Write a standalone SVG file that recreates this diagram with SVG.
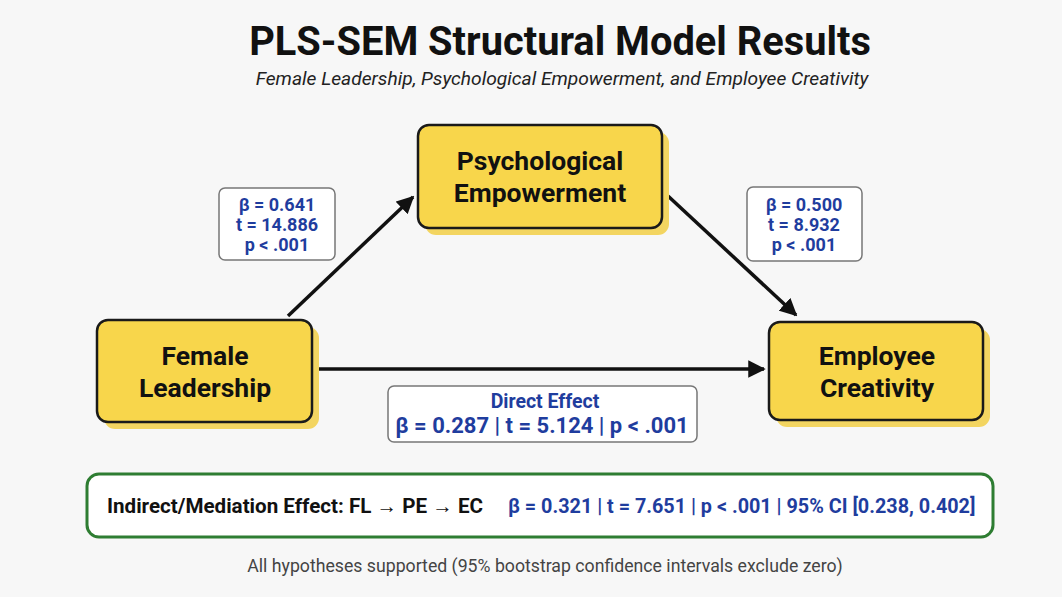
<svg xmlns="http://www.w3.org/2000/svg" width="1062" height="597" viewBox="0 0 1062 597">
<defs>
<style>
.node{fill:#F8D64B;stroke:#1a1a1a;stroke-width:2.5}
.shadow{fill:#F3D561}
.ntext{font-family:Roboto,"Liberation Sans",sans-serif;font-weight:700;font-size:26.5px;fill:#111;text-anchor:middle}
.lbl{fill:#fff;stroke:#777;stroke-width:1.5}
.ltext{font-family:Roboto,"Liberation Sans",sans-serif;font-weight:700;font-size:18px;fill:#1f3d9e;text-anchor:middle}
.dtitle{font-size:19.5px}
.dline{font-size:22px}
.conn{stroke:#111;stroke-width:3.5;fill:none;marker-end:url(#ah)}
</style>
<marker id="ah" viewBox="0 0 10 10" refX="9" refY="5" markerWidth="5" markerHeight="5" orient="auto" markerUnits="strokeWidth">
<path d="M0,0 L10,5 L0,10 z" fill="#111"/>
</marker>
</defs>
<rect width="1062" height="597" fill="#f7f7f7"/>
<text x="560" y="55" font-family="Roboto,'Liberation Sans',sans-serif" font-weight="700" font-size="39.8" fill="#111" text-anchor="middle">PLS-SEM Structural Model Results</text>
<text x="562" y="85" font-family="Roboto,'Liberation Sans',sans-serif" font-style="italic" font-size="19.2" fill="#222" text-anchor="middle">Female Leadership, Psychological Empowerment, and Employee Creativity</text>

<g id="connectors">
<line class="conn" x1="288" y1="316" x2="413" y2="197"/>
<line class="conn" x1="668" y1="196" x2="796" y2="315"/>
<line class="conn" x1="313" y1="369" x2="764" y2="369"/>
</g>

<g id="node-fl">
<rect class="shadow" x="104" y="327" width="215" height="102" rx="11"/>
<rect class="node" x="97" y="320" width="215" height="102" rx="11"/>
<text class="ntext" x="205" y="365">Female</text>
<text class="ntext" x="205" y="397">Leadership</text>
</g>
<g id="node-pe">
<rect class="shadow" x="425" y="132" width="244" height="103" rx="11"/>
<rect class="node" x="418" y="125" width="244" height="103" rx="11"/>
<text class="ntext" x="540" y="170">Psychological</text>
<text class="ntext" x="540" y="202">Empowerment</text>
</g>
<g id="node-ec">
<rect class="shadow" x="776" y="329" width="214" height="98" rx="11"/>
<rect class="node" x="769" y="322" width="214" height="98" rx="11"/>
<text class="ntext" x="877" y="365">Employee</text>
<text class="ntext" x="877" y="397">Creativity</text>
</g>

<g id="label-fl-pe">
<rect class="lbl" x="219" y="188" width="116" height="72" rx="6"/>
<text class="ltext" x="277" y="211">β = 0.641</text>
<text class="ltext" x="277" y="231">t = 14.886</text>
<text class="ltext" x="277" y="251">p &lt; .001</text>
</g>
<g id="label-pe-ec">
<rect class="lbl" x="747" y="187" width="115" height="74" rx="6"/>
<text class="ltext" x="804" y="211">β = 0.500</text>
<text class="ltext" x="804" y="231">t = 8.932</text>
<text class="ltext" x="804" y="251">p &lt; .001</text>
</g>
<g id="label-direct">
<rect class="lbl" x="388" y="386" width="309" height="56" rx="6"/>
<text class="ltext dtitle" x="545" y="408">Direct Effect</text>
<text class="ltext dline" x="542" y="433">β = 0.287 | t = 5.124 | p &lt; .001</text>
</g>

<g id="mediation">
<rect x="87" y="474" width="906" height="63" rx="12" fill="#fff" stroke="#2e7d32" stroke-width="3"/>
<text x="107" y="513" font-family="Roboto,'Liberation Sans',sans-serif" font-weight="700" font-size="20.6" fill="#111">Indirect/Mediation Effect: FL → PE → EC</text>
<text x="508" y="513" font-family="Roboto,'Liberation Sans',sans-serif" font-weight="700" font-size="19.8" fill="#1f3d9e">β = 0.321 | t = 7.651 | p &lt; .001 | 95% CI [0.238, 0.402]</text>
</g>

<text x="545" y="572" font-family="Roboto,'Liberation Sans',sans-serif" font-size="17.7" fill="#444" text-anchor="middle">All hypotheses supported (95% bootstrap confidence intervals exclude zero)</text>
</svg>
